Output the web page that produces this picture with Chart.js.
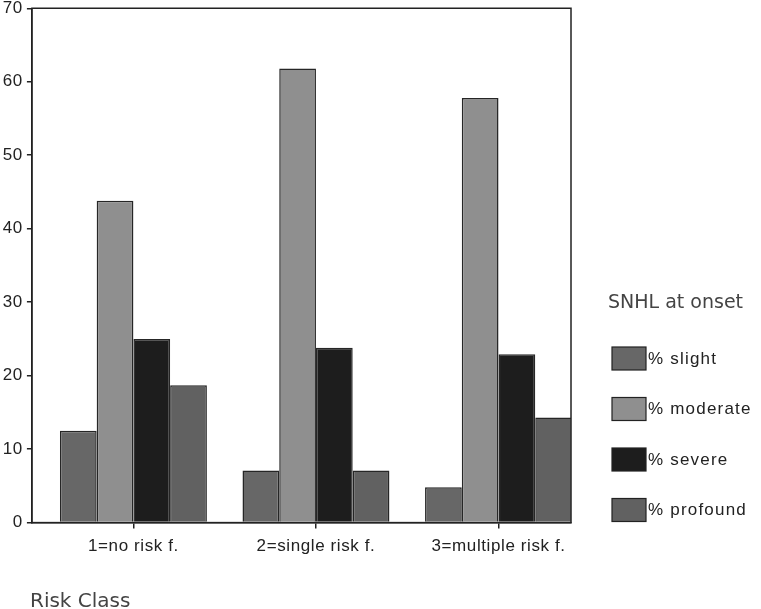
<!DOCTYPE html>
<html>
<head>
<meta charset="utf-8">
<script src="https://cdn.jsdelivr.net/npm/chart.js@4"></script>
<style>
  html, body { margin: 0; padding: 0; background: #fff; }
  #wrap { width: 761px; height: 609px; position: relative; }
</style>
</head>
<body>
<div id="wrap"><canvas id="chart" width="761" height="609"></canvas></div>
<script>
// Risk class groups and the SNHL distribution (% of cases)
const categories = ['1=no risk f.', '2=single risk f.', '3=multiple risk f.'];
const slight = [12.5, 7.1, 4.8];
const moderate = [43.8, 61.8, 57.8];
const severe = [25.0, 23.8, 22.9];
const profound = [18.7, 7.1, 14.3];
const yTicks = [0, 10, 20, 30, 40, 50, 60, 70];

const seriesLabels = ['% slight', '% moderate', '% severe', '% profound'];
const seriesColors = ['#676767', '#8f8f8f', '#1d1d1d', '#616161'];

const toPoints = arr => arr.map((v, i) => ({ x: i + 1, y: v }));

// box round the plot, legend on the right and the axis title at the bottom
const framePlugin = {
    id: 'frame',
    beforeDraw(chart) {
        chart.ctx.letterSpacing = '0.6px';
    },
    afterDraw(chart) {
        const ctx = chart.ctx;
        const a = chart.chartArea;
        ctx.save();
        ctx.letterSpacing = '0px';
        ctx.strokeStyle = '#222';
        ctx.lineWidth = 1.5;
        ctx.strokeRect(a.left, a.top, a.right - a.left, a.bottom - a.top);

        ctx.fillStyle = '#444';
        ctx.textBaseline = 'alphabetic';
        ctx.textAlign = 'left';
        ctx.font = '19px "DejaVu Sans"';
        ctx.fillText('SNHL at onset', 608, 308);

        ctx.font = '20px "DejaVu Sans"';
        ctx.fillText('Risk Class', 30, 607);

        ctx.font = '17px "Liberation Sans"';
        ctx.letterSpacing = '1.2px';
        chart.data.datasets.forEach((ds, i) => {
            const y = 347 + i * 50.5;
            ctx.fillStyle = ds.backgroundColor;
            ctx.fillRect(612, y, 34, 23);
            ctx.strokeStyle = '#222';
            ctx.lineWidth = 1.2;
            ctx.strokeRect(612, y, 34, 23);
            ctx.fillStyle = '#222';
            ctx.textBaseline = 'middle';
            ctx.fillText(ds.label, 648, y + 12);
        });
        ctx.restore();
    }
};

const datasets = [slight, moderate, severe, profound].map((vals, i) => ({
    label: seriesLabels[i],
    data: toPoints(vals),
    backgroundColor: seriesColors[i],
    borderColor: '#262626',
    borderWidth: 1.5,
    categoryPercentage: 0.805,
    barPercentage: 1.0
}));

new Chart(document.getElementById('chart'), {
    type: 'bar',
    data: { datasets },
    plugins: [framePlugin],
    options: {
        responsive: false,
        animation: false,
        layout: { padding: { left: 0, right: 190, top: 0, bottom: 44 } },
        plugins: {
            legend: { display: false },
            tooltip: { enabled: false }
        },
        scales: {
            x: {
                type: 'linear',
                min: 0.444,
                max: 3.397,
                offset: false,
                afterBuildTicks: s => { s.ticks = categories.map((c, i) => ({ value: i + 1 })); },
                ticks: {
                    color: '#222',
                    font: { family: 'Liberation Sans', size: 17 },
                    padding: 8,
                    maxRotation: 0,
                    callback: v => categories[Math.round(v) - 1] || ''
                },
                grid: { offset: false, drawOnChartArea: false, drawTicks: true, tickLength: 6, color: '#222', lineWidth: 1.5 },
                border: { display: true, color: '#222', width: 1.5 }
            },
            y: {
                min: 0,
                max: 70,
                afterBuildTicks: s => { s.ticks = yTicks.map(v => ({ value: v })); },
                ticks: {
                    color: '#222',
                    font: { family: 'Liberation Sans', size: 17, lineHeight: 0.5 },
                    padding: 4
                },
                grid: { drawOnChartArea: false, drawTicks: true, tickLength: 5, color: '#222', lineWidth: 1.5 },
                border: { display: true, color: '#222', width: 1.5 }
            }
        }
    }
});
</script>
</body>
</html>
